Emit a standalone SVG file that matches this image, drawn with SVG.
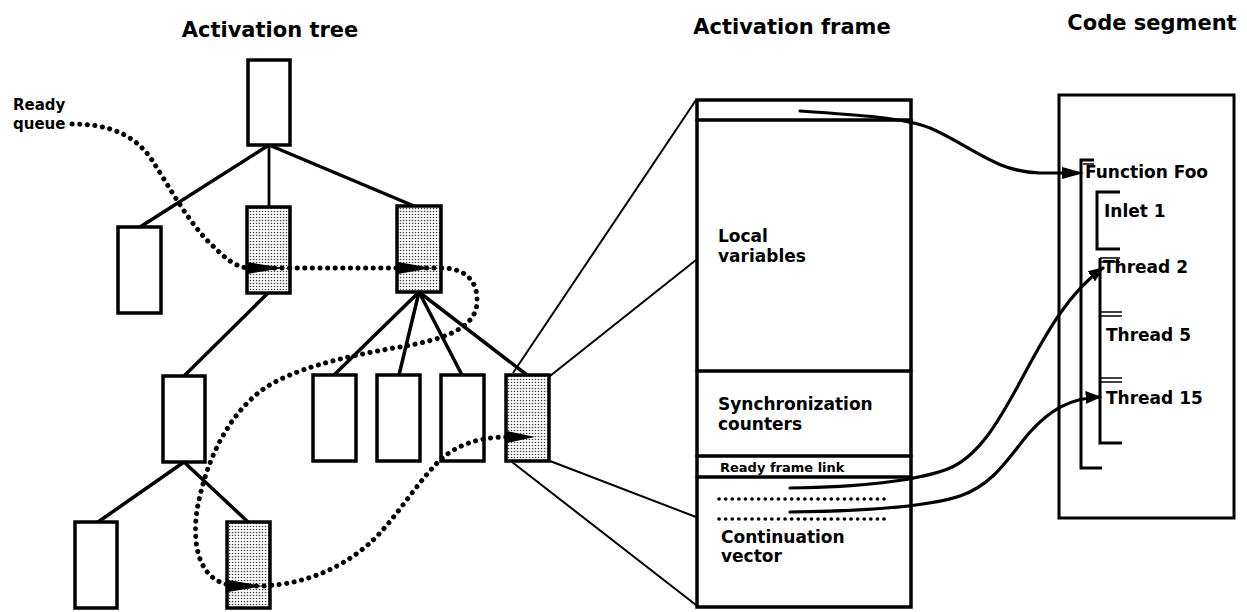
<svg xmlns="http://www.w3.org/2000/svg" width="1247" height="612" viewBox="0 0 1247 612">
<style>
  .t { font-family: "DejaVu Sans", "Liberation Sans", sans-serif; font-weight: bold; fill: #000; }
  .title { font-size: 21px; }
  .lbl { font-size: 17px; }
  .rq { font-size: 15px; }
  .small { font-size: 13px; }
  .box { fill: #fff; stroke: #000; stroke-width: 3.5; }
  .shaded { fill: url(#stipple); stroke: #000; stroke-width: 3.5; }
  .edge { stroke: #000; stroke-width: 3.5; fill: none; stroke-linecap: round; }
  .thin { stroke: #000; stroke-width: 2; fill: none; }
  .dots { stroke: #000; stroke-width: 5; fill: none; stroke-linecap: round; stroke-dasharray: 0.1 7.5; }
  .dots2 { stroke: #000; stroke-width: 3.6; fill: none; stroke-linecap: round; stroke-dasharray: 0.1 6.5; }
  .wire { stroke: #000; stroke-width: 3.2; fill: none; stroke-linecap: round; }
  .frame { fill: #fff; stroke: #000; stroke-width: 3.5; }
  .brk { stroke: #000; stroke-width: 3; fill: none; }
  .brk2 { stroke: #000; stroke-width: 1.5; fill: none; }
</style>
<defs>
  <pattern id="stipple" width="3" height="3" patternUnits="userSpaceOnUse">
    <rect width="3" height="3" fill="#fff"/>
    <circle cx="1.5" cy="1.5" r="0.8" fill="#444"/>
  </pattern>
  <marker id="arr" viewBox="0 0 10 10" refX="9" refY="5" markerWidth="5" markerHeight="5" orient="auto" markerUnits="strokeWidth">
    <path d="M0,1 L10,5 L0,9 Z" fill="#000"/>
  </marker>
</defs>

<rect width="1247" height="612" fill="#fff"/>

<!-- titles -->
<text class="t title" x="270" y="37" text-anchor="middle">Activation tree</text>
<text class="t title" x="792" y="34" text-anchor="middle">Activation frame</text>
<text class="t title" x="1152" y="30" text-anchor="middle">Code segment</text>

<!-- connectors -->
<g id="connectors">
  <!-- tree edges -->
  <line class="edge" x1="269" y1="145" x2="140" y2="227"/>
  <line class="edge" x1="269" y1="145" x2="269" y2="207" style="stroke-width:2.8"/>
  <line class="edge" x1="269" y1="145" x2="414" y2="206"/>
  <line class="edge" x1="268" y1="293" x2="184" y2="376"/>
  <line class="edge" x1="419" y1="292" x2="334" y2="375"/>
  <line class="edge" x1="419" y1="292" x2="399" y2="375"/>
  <line class="edge" x1="419" y1="292" x2="462" y2="375"/>
  <line class="edge" x1="419" y1="292" x2="527" y2="375"/>
  <line class="edge" x1="184" y1="462" x2="98" y2="522"/>
  <line class="edge" x1="184" y1="462" x2="248" y2="522"/>
  <!-- zoom lines to activation frame -->
  <line class="thin" x1="513" y1="373" x2="696" y2="100"/>
  <line class="thin" x1="550" y1="376" x2="696" y2="260"/>
  <line class="thin" x1="550" y1="461" x2="696" y2="517"/>
  <line class="thin" x1="512" y1="462" x2="696" y2="605"/>
</g>

<!-- tree nodes -->
<g id="root"><rect class="box" x="248" y="60" width="42" height="85"/></g>
<g id="n1a"><rect class="box" x="118" y="227" width="43" height="86"/></g>
<g id="n1b"><rect class="shaded" x="247" y="207" width="43" height="86"/></g>
<g id="n1c"><rect class="shaded" x="397" y="206" width="44" height="86"/></g>
<g id="n2a"><rect class="box" x="163" y="376" width="42" height="86"/></g>
<g id="n2b"><rect class="box" x="313" y="375" width="43" height="86"/></g>
<g id="n2c"><rect class="box" x="377" y="375" width="43" height="86"/></g>
<g id="n2d"><rect class="box" x="441" y="375" width="43" height="86"/></g>
<g id="n2e"><rect class="shaded" x="506" y="375" width="43" height="86"/></g>
<g id="n3a"><rect class="box" x="75" y="522" width="42" height="86"/></g>
<g id="n3b"><rect class="shaded" x="227" y="522" width="43" height="86"/></g>

<!-- ready queue -->
<g id="readyqueue">
  <text class="t rq" x="13" y="110">Ready</text>
  <text class="t rq" x="13" y="129">queue</text>
  <path class="dots" d="M 72,124 C 110,124 135,135 152,160 C 170,188 190,225 212,245 C 225,258 236,268 250,268 L 441,268 C 462,268 478,278 477,302 C 476,330 440,340 400,347 C 340,357 290,370 262,390 C 225,418 205,465 197,510 C 192,545 198,586 240,586 L 262,586 C 310,584 345,565 370,543 C 395,520 415,485 440,460 C 460,442 485,437 507,437"/>
  <polygon points="247,262 247,274 284,268" fill="#000"/>
  <polygon points="398,262 398,274 432,268" fill="#000"/>
  <polygon points="228,580 228,592 263,586" fill="#000"/>
  <polygon points="507,431 507,443 535,437" fill="#000"/>
</g>

<!-- activation frame -->
<g id="activation-frame">
  <rect class="frame" x="697" y="100" width="214" height="507"/>
  <line class="edge" x1="697" y1="120" x2="911" y2="120"/>
  <line class="edge" x1="697" y1="371" x2="911" y2="371"/>
  <line class="edge" x1="697" y1="456" x2="911" y2="456"/>
  <line class="edge" x1="697" y1="477" x2="911" y2="477"/>
  <text class="t lbl" x="718" y="242">Local</text>
  <text class="t lbl" x="718" y="262">variables</text>
  <text class="t lbl" x="718" y="410">Synchronization</text>
  <text class="t lbl" x="718" y="430">counters</text>
  <text class="t small" x="720" y="472">Ready frame link</text>
  <path class="dots2" d="M 719,499 L 888,499"/>
  <path class="dots2" d="M 719,519 L 888,519"/>
  <text class="t lbl" x="721" y="543">Continuation</text>
  <text class="t lbl" x="721" y="562">vector</text>
</g>

<!-- code segment -->
<g id="code-segment">
  <rect x="1059" y="95" width="175" height="423" fill="#fff" stroke="#000" stroke-width="3"/>
  <path class="brk" d="M 1094,160 L 1081,160 L 1081,468 L 1102,468"/>
  <path class="brk2" d="M 1083,164 L 1094,164"/>
  <path class="brk" d="M 1120,192 L 1097,192 L 1097,249 L 1120,249"/>
  <path class="brk" d="M 1100,258 L 1100,443 L 1122,443"/>
  <path class="brk2" d="M 1100,258 L 1120,258 M 1100,262 L 1120,262"/>
  <path class="brk2" d="M 1100,312 L 1122,312 M 1100,316 L 1122,316"/>
  <path class="brk2" d="M 1100,378 L 1122,378 M 1100,382 L 1122,382"/>
  <text class="t lbl" x="1085" y="178">Function Foo</text>
  <text class="t lbl" x="1104" y="217">Inlet 1</text>
  <text class="t lbl" x="1103" y="273">Thread 2</text>
  <text class="t lbl" x="1106" y="341">Thread 5</text>
  <text class="t lbl" x="1106" y="404">Thread 15</text>
</g>

<!-- links from frame to code -->
<g id="code-links">
  <path class="wire" d="M 800,111 C 860,115 905,118 930,128 C 970,145 995,172 1040,173 L 1064,173"/>
  <polygon points="1062,167 1084,173 1062,179" fill="#000"/>
  <path class="wire" marker-end="url(#arr)" d="M 790,488 C 860,487 910,482 945,470 C 1010,448 1030,320 1103,268"/>
  <path class="wire" marker-end="url(#arr)" d="M 790,512 C 870,511 930,506 960,496 C 995,484 1010,455 1030,432 C 1050,410 1070,398 1100,397"/>
</g>
</svg>
